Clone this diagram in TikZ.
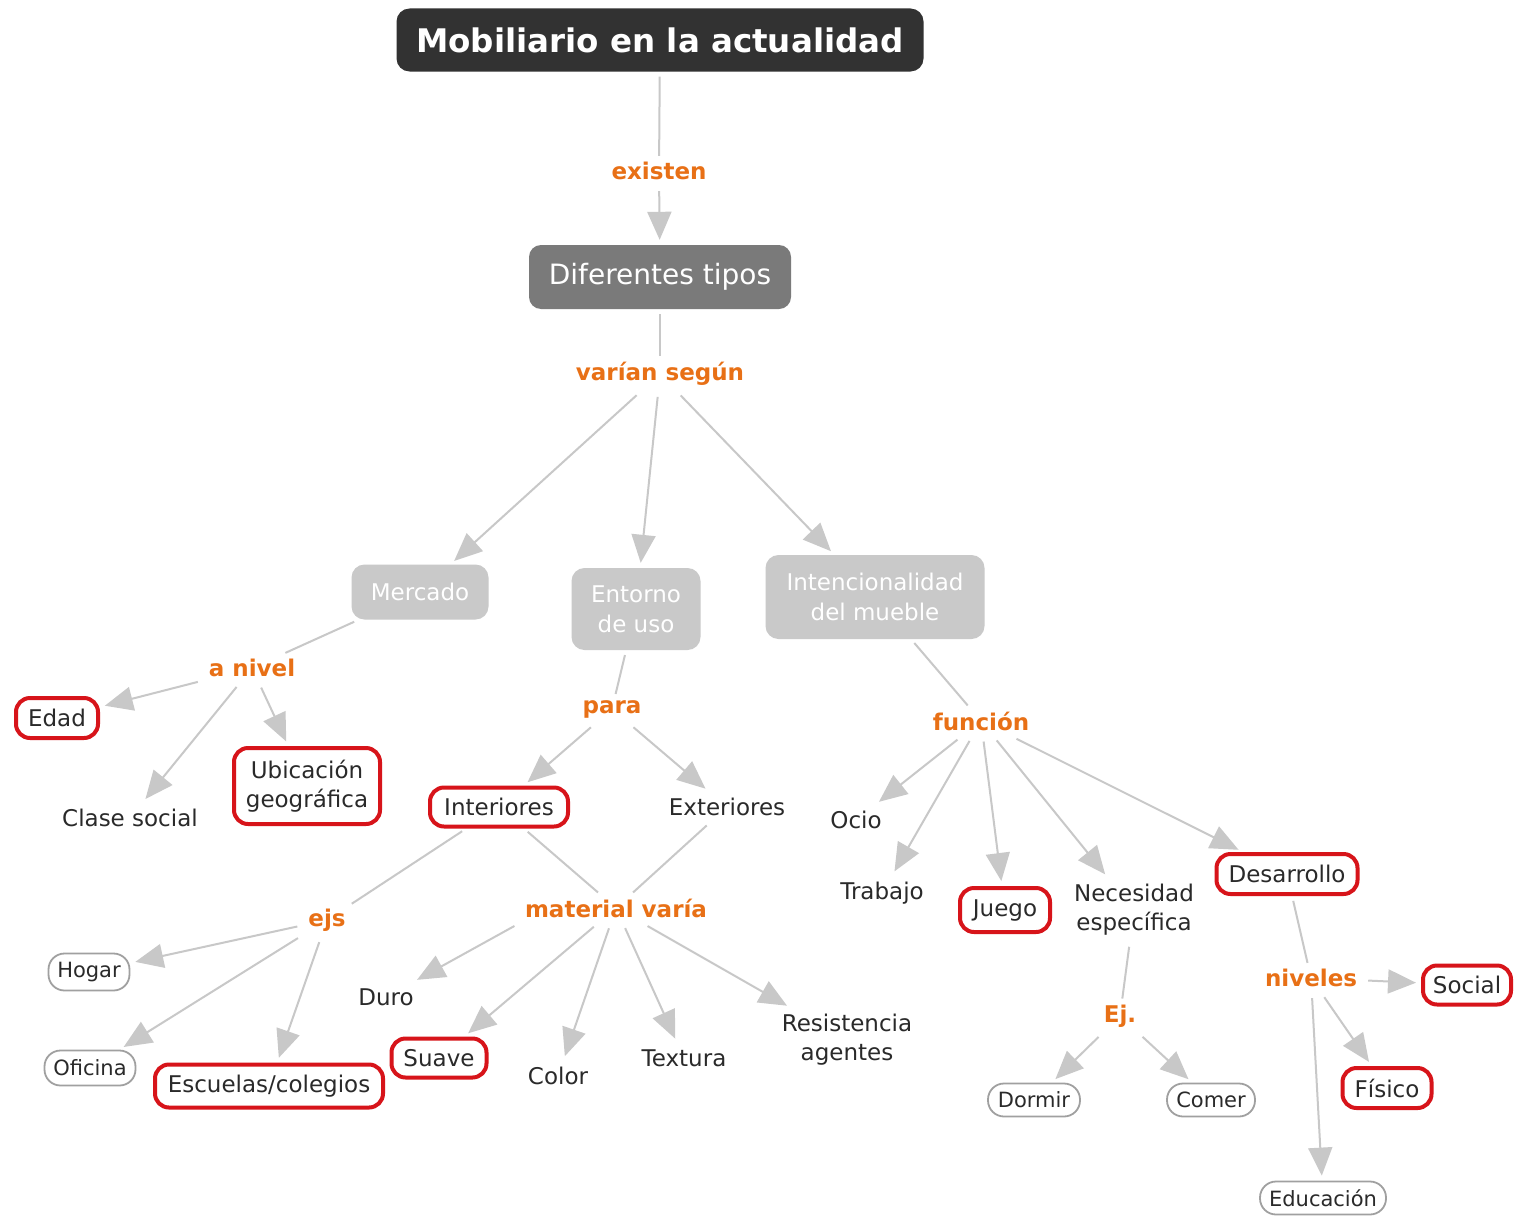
\documentclass[tikz,border=0pt]{standalone}
\usepackage{fontspec}
\setmainfont{DejaVu Sans}
\usetikzlibrary{arrows.meta}

\definecolor{ink}{HTML}{2A2A2A}
\definecolor{linkgray}{HTML}{C8C8C8}
\definecolor{linkorange}{RGB}{232,112,22}
\definecolor{boxred}{HTML}{D7141A}
\definecolor{pillgray}{HTML}{A0A0A0}
\definecolor{darkbox}{HTML}{323232}
\definecolor{midbox}{HTML}{7A7A7A}
\definecolor{lightbox}{HTML}{C9C9C9}

\tikzset{
  txt/.style={font=\fontsize{23}{29}\selectfont, text=ink, align=center, inner sep=6pt},
  lbl/.style={font=\bfseries\fontsize{23}{29}\selectfont, text=linkorange, inner sep=6pt},
  redbox/.style={font=\fontsize{23}{29}\selectfont, text=ink, align=center, inner sep=0pt,
                 draw=boxred, line width=4pt, rounded corners=14pt, fill=white},
  pill/.style={font=\fontsize{21}{26}\selectfont, text=ink, inner sep=0pt,
               draw=pillgray, line width=1.8pt, rounded corners=16pt, fill=white},
  graybox/.style={font=\fontsize{23}{30}\selectfont, text=white, fill=lightbox,
                  rounded corners=13pt, align=center, inner sep=0pt},
  link/.style={draw=linkgray, line width=2pt, shorten <=5pt},
  arr/.style={link, -{Triangle[length=28pt,width=24pt]}, shorten >=5pt},
}

\begin{document}
\begin{tikzpicture}[x=1pt,y=-1pt]
\fill[white] (0,0) rectangle (1514,1215);
\useasboundingbox (0,0) rectangle (1514,1215);

% top of the map
\node[fill=darkbox, text=white, font=\bfseries\fontsize{32.5}{38}\selectfont,
      minimum width=527, minimum height=63, rounded corners=13pt, inner sep=0pt]
      (title) at (660,40) {Mobiliario en la actualidad};
\node[lbl] (existen) at (659,171) {existen};
\node[fill=midbox, text=white, font=\fontsize{28}{34}\selectfont,
      minimum width=262, minimum height=64, rounded corners=12pt, inner sep=0pt]
      (tipos) at (660,277) {Diferentes tipos};
\node[lbl] (varian) at (660,374) {varían según};

% three criteria
\node[graybox, minimum width=137, minimum height=55] (mercado) at (420,592) {Mercado};
\node[graybox, minimum width=129, minimum height=82] (entorno) at (636,609) {Entorno\\de uso};
\node[graybox, minimum width=219, minimum height=84] (intenc) at (875,597) {Intencionalidad\\del mueble};

% market branch
\node[lbl] (anivel) at (252,668) {a nivel};
\node[redbox, minimum width=82, minimum height=40] (edad) at (57,718) {Edad};
\node[txt] (clase) at (130,818) {Clase social};
\node[redbox, minimum width=146, minimum height=76] (ubic) at (307,786) {Ubicación\\geográfica};

% environment branch
\node[lbl] (para) at (612,709) {para};
\node[redbox, minimum width=138, minimum height=39] (interiores) at (499,807) {Interiores};
\node[txt] (exteriores) at (727,807) {Exteriores};
\node[lbl] (ejs) at (327,920) {ejs};
\node[lbl] (mv) at (616,908) {material varía};
\node[pill, minimum width=81, minimum height=37] (hogar) at (89,972) {Hogar};
\node[pill, minimum width=91, minimum height=35] (oficina) at (90,1068) {Oficina};
\node[redbox, minimum width=228, minimum height=43] (escuelas) at (269,1086) {Escuelas/colegios};
\node[txt] (duro) at (386,997) {Duro};
\node[redbox, minimum width=95, minimum height=39] (suave) at (439,1058) {Suave};
\node[txt] (color) at (558,1076) {Color};
\node[txt] (textura) at (684,1058) {Textura};
\node[txt] (resist) at (847,1040) {Resistencia\\agentes};

% purpose branch
\node[lbl] (funcion) at (981,721) {función};
\node[txt] (ocio) at (856,820) {Ocio};
\node[txt] (trabajo) at (882,893) {Trabajo};
\node[redbox, minimum width=90, minimum height=44] (juego) at (1005,910) {Juego};
\node[txt] (necesidad) at (1134,910) {Necesidad\\específica};
\node[redbox, minimum width=141, minimum height=40] (desarrollo) at (1287,874) {Desarrollo};
\node[lbl] (ej) at (1120,1016) {Ej.};
\node[pill, minimum width=92, minimum height=33] (dormir) at (1034,1100) {Dormir};
\node[pill, minimum width=88, minimum height=33] (comer) at (1211,1100) {Comer};
\node[lbl] (niveles) at (1311,978) {niveles};
\node[redbox, minimum width=88, minimum height=39] (social) at (1467,985) {Social};
\node[redbox, minimum width=89, minimum height=40] (fisico) at (1387,1088) {Físico};
\node[pill, minimum width=126, minimum height=33] (educacion) at (1323,1198) {Educación};

% connectors
\draw[link] (title) -- (existen);
\draw[arr] (existen) -- (tipos);
\draw[link] (tipos) -- (varian);
\draw[arr] (varian) -- (mercado);
\draw[arr] (varian) -- (entorno);
\draw[arr] (varian) -- (intenc);

\draw[link] (mercado) -- (anivel);
\draw[arr] (anivel) -- (edad);
\draw[arr] (anivel) -- (clase);
\draw[arr] (anivel) -- (ubic);

\draw[link] (entorno) -- (para);
\draw[arr] (para) -- (interiores);
\draw[arr] (para) -- (exteriores);
\draw[link] (interiores) -- (ejs);
\draw[link] (interiores) -- (mv);
\draw[link] (exteriores) -- (mv);
\draw[arr] (ejs) -- (hogar);
\draw[arr] (ejs) -- (oficina);
\draw[arr] (ejs) -- (escuelas);
\draw[arr] (mv.south west) -- (duro);
\draw[arr] (mv) -- (suave);
\draw[arr] (mv) -- (color);
\draw[arr] (mv) -- (textura);
\draw[arr] (mv) -- (resist);

\draw[link] (intenc) -- (funcion);
\draw[arr] (funcion) -- (ocio);
\draw[arr] (funcion) -- (trabajo);
\draw[arr] (funcion) -- (juego);
\draw[arr] (funcion) -- (necesidad);
\draw[arr] (funcion) -- (desarrollo);
\draw[link] (necesidad) -- (ej);
\draw[arr] (ej) -- (dormir);
\draw[arr] (ej) -- (comer);
\draw[link] (desarrollo) -- (niveles);
\draw[arr] (niveles) -- (social);
\draw[arr] (niveles) -- (fisico);
\draw[arr] (niveles) -- (educacion);
\end{tikzpicture}
\end{document}
